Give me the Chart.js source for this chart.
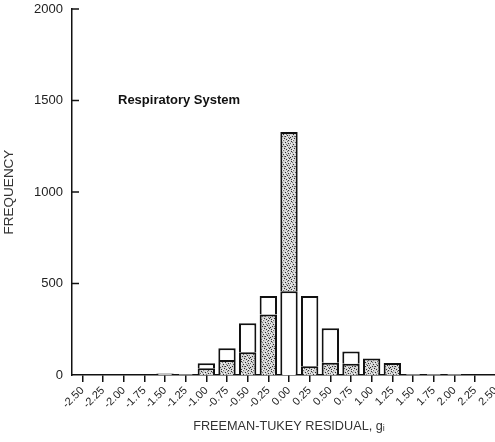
<!DOCTYPE html>
<html><head><meta charset="utf-8">
<style>html,body{margin:0;padding:0;overflow:hidden;background:#fff}#wrap{width:507px;height:442px;position:relative}</style>
<script src="https://cdn.jsdelivr.net/npm/chart.js@4"></script>
</head><body><div id="wrap"><canvas id="c"></canvas></div>
<script>
const categories = ['-2.50','-2.25','-2.00','-1.75','-1.50','-1.25','-1.00','-0.75','-0.50','-0.25','0.00','0.25','0.50','0.75','1.00','1.25','1.50','1.75','2.00','2.25','2.50'];
const stippleLower = [0,0,0,0,0,0,37,82,124,330,0,48,67,62,90,66,0,0,0,0,0];
const openPart     = [0,0,0,0,8,6,27,64,159,102,458,384,188,66,0,0,6,6,5,0,0];
const stippleUpper = [0,0,0,0,0,0,0,0,0,0,870,0,0,0,0,0,0,0,0,0,0];
const yTicks = [0,500,1000,1500,2000];
const panelLabel = 'Respiratory System';
const xTitle = 'FREEMAN-TUKEY RESIDUAL, gᵢ';
const yTitle = 'FREQUENCY';

function makeStipple(){
  const t = document.createElement('canvas');
  t.width = 10; t.height = 10;
  const g = t.getContext('2d');
  g.fillStyle = '#d2d2d2'; g.fillRect(0,0,10,10);
  g.fillStyle = '#f4f4f4';
  [[2,0],[6,1],[9,2],[0,5],[4,3],[7,7],[3,9],[5,5],[1,3],[8,9]].forEach(d => g.fillRect(d[0], d[1], 1, 1));
  g.fillStyle = '#2e2e2e';
  const dots = [[1,1],[5,2],[8,0],[3,4],[7,5],[0,7],[4,8],[9,8],[2,6],[6,9],[8,3],[1,9],[5,6]];
  dots.forEach(d => g.fillRect(d[0], d[1], 1, 1));
  g.fillStyle = '#707070';
  [[3,0],[6,4],[0,3],[8,7],[2,2],[4,6],[7,1],[9,5]].forEach(d => g.fillRect(d[0], d[1], 1, 1));
  return g.createPattern(t, 'repeat');
}
const ctx = document.getElementById('c').getContext('2d');
const stipple = makeStipple();

const barCommon = {borderColor:'#111', borderWidth:2, borderSkipped:'start', barPercentage:0.84, categoryPercentage:1.0};
const fam = '"Liberation Sans", Arial, sans-serif';

const decor = {
  id:'decor',
  afterDraw(chart){
    const c = chart.ctx, y = chart.scales.y, a = chart.chartArea;
    c.save();
    c.strokeStyle = '#111'; c.lineWidth = 1.5;
    yTicks.forEach(v => {
      if (v === 0) return;
      const py = y.getPixelForValue(v);
      c.beginPath(); c.moveTo(a.left, py); c.lineTo(a.left + 7, py); c.stroke();
    });
    c.fillStyle = '#111';
    c.font = 'bold 13px ' + fam;
    c.textBaseline = 'middle'; c.textAlign = 'left';
    c.fillText(panelLabel, a.left + 46, y.getPixelForValue(1500));
    c.restore();
  }
};

new Chart(ctx, {
  type:'bar',
  data:{
    labels: categories,
    datasets:[
      Object.assign({label:'lower', data:stippleLower, backgroundColor:stipple}, barCommon),
      Object.assign({label:'open', data:openPart, backgroundColor:'#ffffff'}, barCommon),
      Object.assign({label:'upper', data:stippleUpper, backgroundColor:stipple}, barCommon)
    ]
  },
  options:{
    responsive:true, maintainAspectRatio:false, animation:false, devicePixelRatio:1,
    layout:{padding:{top:9, left:0, right:0, bottom:0}},
    plugins:{legend:{display:false}, tooltip:{enabled:false}, title:{display:false}},
    scales:{
      x:{
        stacked:true, offset:true,
        grid:{display:true, offset:false, drawOnChartArea:false, drawTicks:true, tickLength:7, color:'#111', lineWidth:1.5},
        border:{display:true, color:'#111', width:1.5},
        ticks:{color:'#222', font:{family:fam, size:11}, minRotation:45, maxRotation:45, autoSkip:false, padding:2},
        title:{display:true, text:xTitle, color:'#333', font:{family:fam, size:12.7}, padding:{top:4,bottom:8}},
        afterFit(s){ s.height = 67; }
      },
      y:{
        stacked:true, min:0, max:2000,
        afterBuildTicks(s){ s.ticks = yTicks.map(v => ({value:v})); },
        grid:{display:false, drawTicks:false},
        border:{display:true, color:'#111', width:1.5},
        ticks:{color:'#222', font:{family:fam, size:13}, padding:9, callback:v => String(v)},
        title:{display:true, text:yTitle, color:'#333', font:{family:fam, size:13.5}, padding:1},
        afterFit(s){ s.width = 72; s.paddingTop = 0; s.paddingBottom = 0; }
      }
    }
  },
  plugins:[decor]
});
</script></body></html>
